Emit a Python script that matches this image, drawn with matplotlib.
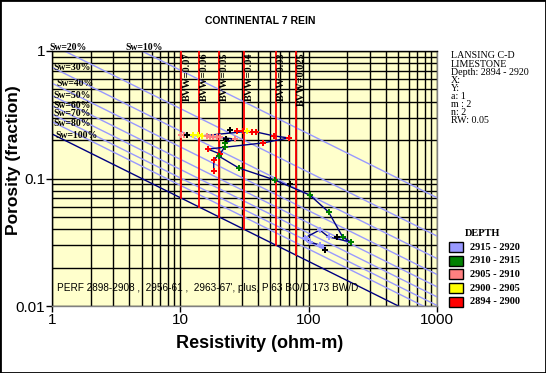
import matplotlib
matplotlib.use('Agg')
import matplotlib.pyplot as plt
import numpy as np
from matplotlib.patches import Rectangle
from matplotlib.ticker import FixedLocator, FixedFormatter, NullFormatter

# ---------------- parameters / data ----------------
a_const = 1.0
m_exp = 2.0
n_exp = 2.0
rw = 0.05

title = "CONTINENTAL 7 REIN"
info_lines = ["LANSING C-D", "LIMESTONE", "Depth: 2894 - 2920", "X:", "Y:",
              "a: 1", "m : 2", "n: 2", "RW: 0.05"]
perf_note = "PERF 2898-2908 ,  2956-61 ,  2963-67', plus, P 63 BO/D 173 BW/D"

sw_values = [0.1, 0.2, 0.3, 0.4, 0.5, 0.6, 0.7, 0.8, 1.0]
sw_labels = ["Sw=10%", "Sw=20%", "Sw=30%", "Sw=40%", "Sw=50%", "Sw=60%",
             "Sw=70%", "Sw=80%", "Sw=100%"]
bvw_values = [0.07, 0.06, 0.05, 0.04, 0.03, 0.025]
bvw_labels = ["BVW=0.07", "BVW=0.06", "BVW=0.05", "BVW=0.04", "BVW=0.03", "BVW=0.025"]

x_ticks = [1, 10, 100, 1000]
x_tick_labels = ["1", "10", "100", "1000"]
y_ticks = [0.01, 0.1, 1]
y_tick_labels = ["0.01", "0.1", "1"]

# depth-interval samples (resistivity, porosity)
red_rt = [18.2, 18.2, 20.3, 16.4, 43.9, 69.9, 53.4, 38.7, 36.0, 30.6, 27.5]
red_phi = [0.115, 0.140, 0.156, 0.170, 0.190, 0.208, 0.216, 0.232, 0.232, 0.234, 0.236]
yellow_rt = [32.9, 14.7, 13.7, 12.5]
yellow_phi = [0.234, 0.216, 0.219, 0.219]
pink_rt = [10.1, 10.6, 16.1, 17.0, 17.9, 19.2, 20.3, 26.5]
pink_phi = [0.219, 0.219, 0.216, 0.212, 0.210, 0.210, 0.210, 0.204]
green_rt = [22.2, 22.2, 19.9, 28.5, 54.4, 101.8, 143.0, 184.0, 212.0]
green_phi = [0.190, 0.177, 0.150, 0.121, 0.0973, 0.0743, 0.0546, 0.0348, 0.0318]
blue_rt = [143.0, 122.0, 93.0, 96.5, 101.8, 122.0, 128.5]
blue_phi = [0.0348, 0.0395, 0.0341, 0.0335, 0.0318, 0.0301, 0.0290]
black_rt = [11.2, 24.3, 22.6, 71.1, 165.0, 133.0]
black_phi = [0.219, 0.240, 0.204, 0.0905, 0.0348, 0.0275]

legend_labels = ["2915 - 2920", "2910 - 2915", "2905 - 2910", "2900 - 2905", "2894 - 2900"]
legend_colors = ["#9999ff", "#008000", "#ff8080", "#ffff00", "#ff0000"]

# ---------------- figure ----------------
W, H = 546, 373
fig = plt.figure(figsize=(W / 100, H / 100), dpi=100)
fig.patch.set_facecolor('white')
fig.add_artist(Rectangle((0, 0), 1, 1, transform=fig.transFigure, fill=False,
                         edgecolor='black', lw=2.0))

def fx(px):
    return px / W

def fy(py):
    return 1 - py / H

ax = fig.add_axes([fx(52), fy(306), 385 / W, 255 / H])
ax.set_xscale('log')
ax.set_yscale('log')
ax.set_xlim(1, 1000)
ax.set_ylim(0.01, 1)
ax.set_facecolor('#ffffcc')
ax.grid(True, which='both', color='black', lw=1.0, zorder=0)
ax.set_axisbelow(True)
for s in ax.spines.values():
    s.set_color('black')
    s.set_linewidth(1.0)
ax.spines['right'].set_color('#808080')
ax.spines['bottom'].set_color('#808080')

sans = 'Liberation Sans'
serif = 'Liberation Serif'

ax.xaxis.set_major_locator(FixedLocator(x_ticks))
ax.xaxis.set_major_formatter(FixedFormatter(x_tick_labels))
ax.yaxis.set_major_locator(FixedLocator(y_ticks))
ax.yaxis.set_major_formatter(FixedFormatter(y_tick_labels))
ax.xaxis.set_minor_formatter(NullFormatter())
ax.yaxis.set_minor_formatter(NullFormatter())
ax.tick_params(which='major', length=4, width=1, direction='out', pad=1,
               labelsize=11)
ax.tick_params(which='minor', length=0)
for lab in ax.get_xticklabels() + ax.get_yticklabels():
    lab.set_fontfamily(sans)

# Sw lines (Archie)
rt_line = np.logspace(0, 3, 300)
for sw in sw_values:
    phi_line = (a_const * rw / (rt_line * sw ** n_exp)) ** (1 / m_exp)
    col = '#000080' if sw == 1.0 else '#9999ff'
    ax.plot(rt_line, phi_line, color=col, lw=1.0, zorder=2)

# BVW lines: vertical from phi = BVW (Sw = 100%) to phi = 1
for bvw, lab in zip(bvw_values, bvw_labels):
    rt_b = a_const * rw / bvw ** 2
    ax.plot([rt_b, rt_b], [bvw, 1], color='#ff0000', lw=1.3, zorder=3)
    ax.annotate(lab, xy=(rt_b, 1), xytext=(4, -1), textcoords='offset points',
                rotation=90, ha='center', va='top', fontsize=7.5, fontweight='bold',
                fontfamily=serif, color='black', zorder=5)

# Sw labels
sw_label_pos = {
    "Sw=20%": (49, 47), "Sw=10%": (125, 47), "Sw=30%": (53, 68), "Sw=40%": (56, 83),
    "Sw=50%": (53, 96), "Sw=60%": (53, 105), "Sw=70%": (53, 114), "Sw=80%": (53, 124),
    "Sw=100%": (55, 136),
}
for lab in sw_labels:
    px, py = sw_label_pos[lab]
    fig.text(fx(px), fy(py), lab, ha='left', va='center', fontsize=7,
             fontweight='bold', fontfamily=serif, color='black', zorder=6)

# data path and markers
all_rt = red_rt + yellow_rt + pink_rt + green_rt + blue_rt
all_phi = red_phi + yellow_phi + pink_phi + green_phi + blue_phi
ax.plot(all_rt, all_phi, color='#000080', lw=1.0, zorder=4)
series = [(red_rt, red_phi, '#ff0000'), (yellow_rt, yellow_phi, '#ffff00'),
          (pink_rt, pink_phi, '#ff8080'), (green_rt, green_phi, '#008000'),
          (blue_rt, blue_phi, '#9999ff'), (black_rt, black_phi, '#000000')]
for rts, phis, col in series:
    ax.plot(rts, phis, ls='none', marker='P', ms=4.8, color=col,
            markeredgewidth=0, zorder=5)

ax.text(fx(57), fy(288), perf_note, transform=fig.transFigure, ha='left',
        va='center', fontsize=7.2, fontfamily=sans, color='black', zorder=6)

# axis labels & title
fig.text(fx(260), fy(343), "Resistivity (ohm-m)", ha='center', va='center',
         fontsize=13, fontweight='bold', fontfamily=sans)
fig.text(fx(14), fy(160), "Porosity (fraction)", ha='center', va='center',
         rotation=90, fontsize=12.5, fontweight='bold', fontfamily=sans)
fig.text(fx(260), fy(21), title, ha='center', va='center', fontsize=7.5,
         fontweight='bold', fontfamily=sans)

# info block
for i, line in enumerate(info_lines):
    fig.text(fx(451), fy(56 + i * 8.05), line, ha='left', va='center',
             fontsize=7.2, fontfamily=serif)

# legend
fig.text(fx(465), fy(234), "DEPTH", ha='left', va='center', fontsize=7.5,
         fontweight='bold', fontfamily=serif)
for i, (lab, col) in enumerate(zip(legend_labels, legend_colors)):
    cy = 247 + i * 13.7
    fig.add_artist(Rectangle((fx(449), fy(cy + 5)), 14 / W, 10 / H,
                             transform=fig.transFigure, facecolor=col,
                             edgecolor='black', lw=1.0))
    fig.text(fx(470), fy(cy), lab, ha='left', va='center', fontsize=7.5,
             fontweight='bold', fontfamily=serif)

fig.savefig('out.png', dpi=100)
